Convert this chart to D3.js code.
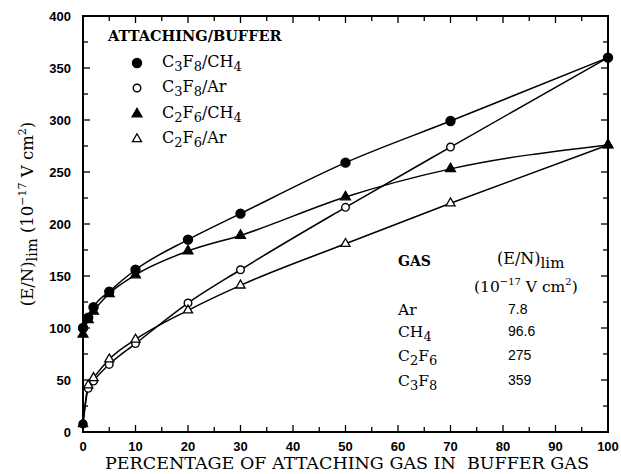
<!DOCTYPE html>
<html>
<head>
<meta charset="utf-8">
<script src="https://cdn.jsdelivr.net/npm/d3@7"></script>
<style>
  html, body { margin: 0; padding: 0; background: #fff; }
  svg { display: block; }
  text { white-space: pre; }
</style>
</head>
<body>
<svg id="chart" width="621" height="474"></svg>
<script>
// Percentage of attaching gas in buffer gas
const percent = [0, 1, 2, 5, 10, 20, 30, 50, 70, 100];

// (E/N)lim in units of 1e-17 V cm^2
const c3f8ch4 = [100, 110, 120, 135, 156, 185, 210, 259, 299, 360];
const c3f8ar  = [7.8, 42, 49, 65, 85, 124, 156, 216, 274, 360];
const c2f6ch4 = [94, 108, 116, 133, 151, 174, 189, 226, 253, 276];
const c2f6ar  = [7.8, 45, 52, 70, 89, 117, 141, 181, 220, 276];

const xTicks = [0, 10, 20, 30, 40, 50, 60, 70, 80, 90, 100];
const yTicks = [0, 50, 100, 150, 200, 250, 300, 350, 400];

// Limiting field strengths of the pure gases
const tableGas = ["Ar", "CH4", "C2F6", "C3F8"];
const tableVal = ["7.8", "96.6", "275", "359"];

const svg = d3.select("#chart");
const plotL = 83, plotR = 608, plotT = 16, plotB = 432;

const x = d3.scaleLinear().domain([0, 100]).range([plotL, plotR]);
const y = d3.scaleLinear().domain([0, 400]).range([plotB, plotT]);

const serif = "'DejaVu Serif', 'Liberation Serif', serif";
const sans = "'Liberation Sans', Arial, sans-serif";

// Frame
svg.append("rect")
  .attr("x", plotL).attr("y", plotT)
  .attr("width", plotR - plotL).attr("height", plotB - plotT)
  .attr("fill", "none").attr("stroke", "#000").attr("stroke-width", 2);

// Inward tick marks on all four sides
const xMinor = d3.range(0, 101, 5);
const yMinor = d3.range(0, 401, 25);
const tg = svg.append("g").attr("stroke", "#000").attr("stroke-width", 1.3);
xMinor.forEach(v => {
  const len = v % 10 === 0 ? 7 : 5;
  tg.append("line").attr("x1", x(v)).attr("x2", x(v)).attr("y1", plotB).attr("y2", plotB - len);
  tg.append("line").attr("x1", x(v)).attr("x2", x(v)).attr("y1", plotT).attr("y2", plotT + len);
});
yMinor.forEach(v => {
  const len = v % 50 === 0 ? 7 : 5;
  tg.append("line").attr("y1", y(v)).attr("y2", y(v)).attr("x1", plotL).attr("x2", plotL + len);
  tg.append("line").attr("y1", y(v)).attr("y2", y(v)).attr("x1", plotR).attr("x2", plotR - len);
});

// Tick labels
svg.append("g").selectAll("text").data(xTicks).join("text")
  .attr("x", d => x(d)).attr("y", 451)
  .attr("text-anchor", "middle")
  .attr("font-family", sans).attr("font-weight", "bold").attr("font-size", 13)
  .text(d => d);
svg.append("g").selectAll("text").data(yTicks).join("text")
  .attr("x", 71).attr("y", d => y(d) + 5)
  .attr("text-anchor", "end")
  .attr("font-family", sans).attr("font-weight", "bold").attr("font-size", 13)
  .text(d => d);

// Axis titles
svg.append("text")
  .attr("x", 347).attr("y", 469)
  .attr("text-anchor", "middle")
  .attr("font-family", serif).attr("font-size", 17.5)
  .text("PERCENTAGE OF ATTACHING GAS IN  BUFFER GAS");

const yt = svg.append("text")
  .attr("transform", "translate(33,214) rotate(-90)")
  .attr("text-anchor", "middle")
  .attr("font-family", serif).attr("font-size", 16.5);
yt.append("tspan").text("(E/N)");
yt.append("tspan").attr("dy", 4).attr("font-size", 14.5).text("lim");
yt.append("tspan").attr("dy", -4).text(" (10");
yt.append("tspan").attr("dy", -7).attr("font-size", 11).text("−17");
yt.append("tspan").attr("dy", 7).text(" V cm");
yt.append("tspan").attr("dy", -7).attr("font-size", 11).text("2");
yt.append("tspan").attr("dy", 7).text(")");

// Series
const series = [
  { name: ["C", "3", "F", "8", "/CH", "4"], vals: c3f8ch4, shape: "circle", fill: true },
  { name: ["C", "3", "F", "8", "/Ar", ""], vals: c3f8ar, shape: "circle", fill: false },
  { name: ["C", "2", "F", "6", "/CH", "4"], vals: c2f6ch4, shape: "triangle", fill: true },
  { name: ["C", "2", "F", "6", "/Ar", ""], vals: c2f6ar, shape: "triangle", fill: false }
];

const line = d3.line()
  .x(d => x(d[0])).y(d => y(d[1]))
  .curve(d3.curveMonotoneX);

series.forEach(s => {
  const pts = percent.map((p, i) => [p, s.vals[i]]);
  svg.append("path").datum(pts)
    .attr("d", line)
    .attr("fill", "none").attr("stroke", "#000").attr("stroke-width", 1.5);
});

function drawMarker(g, shape, filled, cx, cy) {
  if (shape === "circle") {
    g.append("circle").attr("cx", cx).attr("cy", cy)
      .attr("r", filled ? 4.5 : 3.8)
      .attr("fill", filled ? "#000" : "#fff")
      .attr("stroke", "#000").attr("stroke-width", 1.4);
  } else {
    const sym = d3.symbol().type(d3.symbolTriangle).size(filled ? 42 : 36);
    g.append("path").attr("d", sym())
      .attr("transform", `translate(${cx},${cy})`)
      .attr("fill", filled ? "#000" : "#fff")
      .attr("stroke", "#000").attr("stroke-width", 1.3);
  }
}

// Open symbols first so the solid ones sit on top where they coincide
const mg = svg.append("g");
[1, 3, 2, 0].forEach(k => {
  const s = series[k];
  percent.forEach((p, i) => drawMarker(mg, s.shape, s.fill, x(p), y(s.vals[i])));
});
// Pure-argon point drawn solid at the origin
mg.append("circle").attr("cx", x(0)).attr("cy", y(7.8)).attr("r", 4.5).attr("fill", "#000");

// Legend
svg.append("text")
  .attr("x", 108).attr("y", 41)
  .attr("font-family", serif).attr("font-weight", "bold").attr("font-size", 14.5)
  .text("ATTACHING/BUFFER");

const legRows = [63, 88, 114, 139];
series.forEach((s, i) => {
  drawMarker(svg, s.shape, s.fill, 137, legRows[i]);
  const t = svg.append("text")
    .attr("x", 162).attr("y", legRows[i] + 4)
    .attr("font-family", serif).attr("font-size", 16);
  t.append("tspan").text(s.name[0]);
  t.append("tspan").attr("dy", 4).attr("font-size", 13).text(s.name[1]);
  t.append("tspan").attr("dy", -4).text(s.name[2]);
  t.append("tspan").attr("dy", 4).attr("font-size", 13).text(s.name[3]);
  t.append("tspan").attr("dy", -4).text(s.name[4]);
  if (s.name[5]) t.append("tspan").attr("dy", 4).attr("font-size", 13).text(s.name[5]);
});

// Table of pure-gas limits
svg.append("text").attr("x", 398).attr("y", 266)
  .attr("font-family", serif).attr("font-weight", "bold").attr("font-size", 14)
  .text("GAS");
const th = svg.append("text").attr("x", 497).attr("y", 264)
  .attr("font-family", serif).attr("font-size", 16);
th.append("tspan").text("(E/N)");
th.append("tspan").attr("dy", 4).attr("font-size", 15).text("lim");
const th2 = svg.append("text").attr("x", 474).attr("y", 292)
  .attr("font-family", serif).attr("font-size", 15.5);
th2.append("tspan").text("(10");
th2.append("tspan").attr("dy", -7).attr("font-size", 10).text("−17");
th2.append("tspan").attr("dy", 7).text(" V cm");
th2.append("tspan").attr("dy", -7).attr("font-size", 10).text("2");
th2.append("tspan").attr("dy", 7).text(")");

const rowY = [315, 337, 361, 386];
const gasParts = [["Ar"], ["CH", "4"], ["C", "2", "F", "6"], ["C", "3", "F", "8"]];
gasParts.forEach((parts, i) => {
  const t = svg.append("text").attr("x", 398).attr("y", rowY[i])
    .attr("font-family", serif).attr("font-size", 15.5);
  parts.forEach((p, j) => {
    if (j % 2 === 0) t.append("tspan").attr("dy", j === 0 ? 0 : -4).text(p);
    else t.append("tspan").attr("dy", 4).attr("font-size", 13).text(p);
  });
  svg.append("text").attr("x", 508).attr("y", rowY[i] - 1)
    .attr("font-family", sans).attr("font-size", 14)
    .text(tableVal[i]);
});
</script>
</body>
</html>
